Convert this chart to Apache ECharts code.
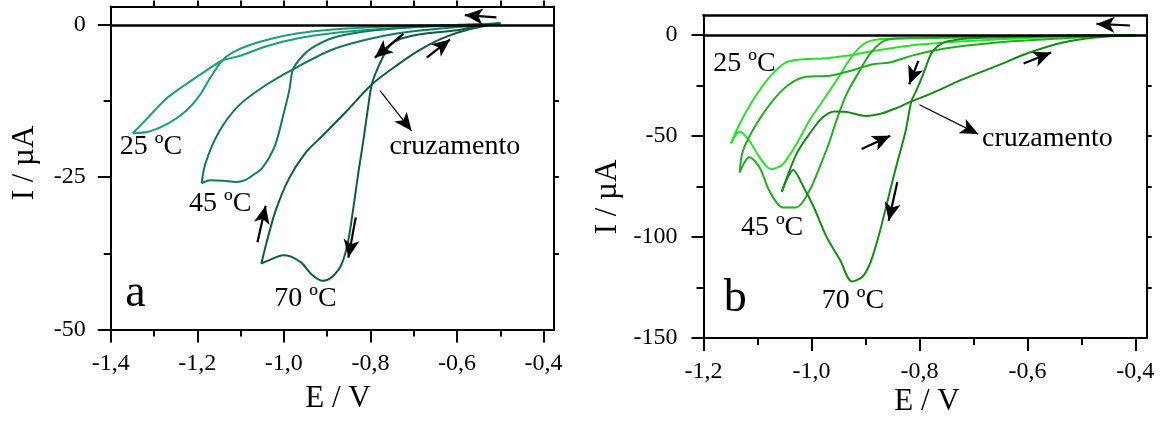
<!DOCTYPE html>
<html><head><meta charset="utf-8">
<script src="https://cdn.jsdelivr.net/npm/echarts@6/dist/echarts.min.js"></script>
<style>html,body{margin:0;padding:0;background:#fff}#c{width:1160px;height:423px}</style>
</head><body><div id="c"></div>
<script>
// ---------- Panel a (E / V, I / uA) ----------
const a25Fwd = [[-0.50,0.2],[-0.60,0.0],[-0.70,-0.15],[-0.80,-0.4],[-0.90,-0.85],[-0.967,-1.4],[-1.029,-2.3],[-1.082,-3.4],[-1.12,-4.6],[-1.143,-5.9],[-1.170,-8.7],[-1.196,-11.7],[-1.227,-14.2],[-1.265,-16.1],[-1.311,-17.5],[-1.349,-17.8]];
const a25Rev = [[-1.349,-17.8],[-1.311,-15.0],[-1.273,-12.2],[-1.227,-9.8],[-1.181,-7.6],[-1.143,-5.9],[-1.097,-5.0],[-1.044,-3.6],[-0.967,-2.2],[-0.88,-1.3],[-0.80,-0.8],[-0.70,-0.4],[-0.60,-0.1],[-0.50,0.2]];
const a45Fwd = [[-0.50,0.2],[-0.60,-0.1],[-0.70,-0.35],[-0.813,-1.1],[-0.889,-2.2],[-0.935,-3.8],[-0.958,-5.2],[-0.979,-7.3],[-0.987,-10.6],[-1.002,-15.0],[-1.021,-19.9],[-1.05,-23.5],[-1.07,-24.6],[-1.09,-25.5],[-1.11,-25.8],[-1.14,-25.6],[-1.17,-25.5],[-1.19,-26.0]];
const a45Rev = [[-1.19,-26.0],[-1.181,-22.7],[-1.151,-17.7],[-1.105,-13.3],[-1.044,-10.0],[-0.979,-7.3],[-0.889,-4.1],[-0.813,-2.5],[-0.736,-1.4],[-0.65,-0.7],[-0.57,-0.2],[-0.50,0.2]];
const a70Fwd = [[-0.50,0.2],[-0.55,-0.2],[-0.60,-0.9],[-0.68,-1.5],[-0.73,-2.3],[-0.755,-3.4],[-0.772,-5.4],[-0.786,-7.6],[-0.797,-9.8],[-0.805,-13.3],[-0.816,-18.8],[-0.828,-24.3],[-0.839,-29.8],[-0.851,-35.3],[-0.866,-39.2],[-0.889,-41.4],[-0.910,-42.0],[-0.935,-41.0],[-0.96,-39.0],[-0.985,-38.0],[-1.002,-37.8],[-1.03,-38.5],[-1.052,-39.2]];
const a70Rev = [[-1.052,-39.2],[-1.041,-36],[-1.019,-30.5],[-0.988,-25.2],[-0.950,-21.0],[-0.912,-18.3],[-0.858,-14.4],[-0.797,-9.8],[-0.736,-6.5],[-0.683,-4.0],[-0.630,-2.1],[-0.569,-0.7],[-0.50,0.2]];

// ---------- Panel b ----------
const b25Fwd = [[-0.40,0],[-0.50,-0.2],[-0.60,-0.4],[-0.70,-0.8],[-0.80,-1.3],[-0.874,-2.0],[-0.898,-3.6],[-0.917,-7.8],[-0.935,-14.4],[-0.954,-22.6],[-0.979,-32.5],[-1.004,-42.4],[-1.028,-54],[-1.053,-63.9],[-1.075,-66.3],[-1.096,-60.5],[-1.115,-52.3],[-1.133,-47.7],[-1.149,-53.6]];
const b25Rev = [[-1.149,-53.6],[-1.133,-44],[-1.109,-32.5],[-1.078,-20.9],[-1.047,-13.5],[-1.016,-11.9],[-0.979,-11.5],[-0.935,-10.2],[-0.886,-7.8],[-0.82,-5.2],[-0.74,-3.4],[-0.65,-2.0],[-0.55,-0.9],[-0.45,-0.2],[-0.40,0]];
const b45Fwd = [[-0.40,0],[-0.50,-0.3],[-0.60,-0.6],[-0.70,-1.0],[-0.80,-1.5],[-0.855,-2.0],[-0.871,-3.6],[-0.892,-9.4],[-0.911,-17.7],[-0.935,-29.2],[-0.954,-42.4],[-0.966,-52.3],[-0.985,-65.5],[-1.004,-77.1],[-1.028,-85.3],[-1.053,-85.3],[-1.078,-77.1],[-1.096,-65.5],[-1.115,-60.5],[-1.133,-68]];
const b45Rev = [[-1.133,-68],[-1.127,-57.3],[-1.102,-44],[-1.072,-32.5],[-1.041,-24.3],[-1.010,-20.6],[-0.966,-20.1],[-0.929,-17.7],[-0.886,-14.4],[-0.855,-13.5],[-0.812,-10.0],[-0.75,-6.5],[-0.657,-3.6],[-0.565,-2.0],[-0.475,-0.6],[-0.40,0]];
const b70Fwd = [[-0.40,0],[-0.50,-0.2],[-0.60,-0.6],[-0.68,-1.3],[-0.73,-2.2],[-0.757,-3.8],[-0.775,-7.8],[-0.784,-12.7],[-0.793,-19.3],[-0.806,-27.6],[-0.815,-32.8],[-0.826,-48],[-0.843,-65],[-0.859,-82],[-0.874,-98],[-0.890,-112],[-0.905,-119.5],[-0.925,-122],[-0.947,-111.4],[-0.972,-99.9],[-0.996,-85],[-1.015,-75.1],[-1.034,-66.8],[-1.045,-71],[-1.055,-77.6]];
const b70Rev = [[-1.055,-77.6],[-1.028,-58.9],[-1.004,-49],[-0.979,-40.7],[-0.957,-37.8],[-0.935,-38],[-0.90,-40],[-0.870,-38.8],[-0.843,-36.1],[-0.815,-32.8],[-0.781,-29.2],[-0.719,-21.8],[-0.657,-15.2],[-0.596,-8.6],[-0.534,-3.6],[-0.475,-1.1],[-0.40,0]];

// ---------- Tick values ----------
const aXMajor = [-1.4,-1.2,-1.0,-0.8,-0.6,-0.4];
const aXMinor = [-1.3,-1.1,-0.9,-0.7,-0.5];
const aXTop = [-1.3,-1.2,-1.1,-1.0,-0.9,-0.8,-0.7,-0.6,-0.5,-0.4];
const aYMajor = [-50,-25,0];
const aYMinor = [-37.5,-12.5];
const aYRight = [-37.5,-25,-12.5];
const bXMajor = [-1.2,-1.0,-0.8,-0.6,-0.4];
const bXMinor = [-1.1,-0.9,-0.7,-0.5];
const bYMajor = [-150,-100,-50,0];
const bYMinor = [-125,-75,-25];
const bYRight = [-125,-100,-75,-50,-25];

// ---------- Annotations ----------
const aLabels = [['25 ºC',-1.307,-20.0],['45 ºC',-1.147,-29.3],['70 ºC',-0.950,-44.9],['cruzamento',-0.605,-20.0]];
const bLabels = [['25 ºC',-1.124,-14.2],['45 ºC',-1.073,-95.2],['70 ºC',-0.923,-131.5],['cruzamento',-0.563,-51.4]];
const aPanel = ['a',-1.343,-44.1];
const bPanel = ['b',-1.141,-130.4];
// arrows: [tailE, tailI, headE, headI, thin?]
const aArrows = [[-0.509,1.2,-0.582,1.6,0],[-0.724,-1.5,-0.790,-5.4,0],[-0.670,-5.4,-0.616,-2.4,0],[-0.778,-10.8,-0.705,-17.4,1],[-1.061,-35.7,-1.042,-29.7,0],[-0.834,-31.6,-0.851,-38.2,0]];
const bArrows = [[-0.410,4.8,-0.472,5.6,0],[-0.802,-12.7,-0.819,-24.3,0],[-0.607,-14.0,-0.556,-8.6,0],[-0.800,-34.5,-0.691,-49.0,1],[-0.907,-56.4,-0.854,-49.8,0],[-0.841,-72.9,-0.857,-91.9,0]];

const colA = ['#17a07c','#0f7a5c','#0b5c45'];
const colB = ['#22e622','#1cb01c','#128c12'];
const FF = '"Liberation Serif","Times New Roman",serif';

const fmtX = v => v.toFixed(1).replace('.', ',');
const fmtY = v => String(Math.round(v));

function xAx(grid, min, max, pos, major, len, labels, line, lw){
  return {type:'value', gridIndex:grid, position:pos, min, max,
    axisLine:{show:line, onZero:false, lineStyle:{color:'#000', width:lw||2}},
    axisTick:{show:major.length>0, customValues:major, length:len, inside:false, lineStyle:{color:'#000', width:2}},
    axisLabel:{show:labels, customValues:major, formatter:fmtX, color:'#000', fontFamily:FF, fontSize:24, margin:22},
    splitLine:{show:false}};
}
function yAx(grid, min, max, pos, major, len, labels, line, lw, margin){
  return {type:'value', gridIndex:grid, position:pos, min, max,
    axisLine:{show:line, onZero:false, lineStyle:{color:'#000', width:lw||2}},
    axisTick:{show:major.length>0, customValues:major, length:len, inside:false, lineStyle:{color:'#000', width:2}},
    axisLabel:{show:labels, customValues:major, formatter:fmtY, color:'#000', fontFamily:FF, fontSize:24, margin:margin||25},
    splitLine:{show:false}};
}

const AXMIN=-1.4, AXMAX=-0.376, AYMIN=-50, AYMAX=3;
const BXMIN=-1.2, BXMAX=-0.379, BYMIN=-150, BYMAX=10;

const xAxis = [
  xAx(0,AXMIN,AXMAX,'bottom',aXMajor,13,true,true),
  xAx(1,BXMIN,BXMAX,'bottom',bXMajor,13,true,true),
  xAx(0,AXMIN,AXMAX,'bottom',aXMinor,7,false,false),
  xAx(1,BXMIN,BXMAX,'bottom',bXMinor,7,false,false),
  xAx(0,AXMIN,AXMAX,'top',aXTop,6,false,true),
  xAx(1,BXMIN,BXMAX,'top',[],0,false,true,2.5)
];
const yAxis = [
  yAx(0,AYMIN,AYMAX,'left',aYMajor,13,true,true,2,25),
  yAx(1,BYMIN,BYMAX,'left',bYMajor,12,true,true,2,26),
  yAx(0,AYMIN,AYMAX,'left',aYMinor,7,false,false),
  yAx(1,BYMIN,BYMAX,'left',bYMinor,7,false,false),
  yAx(0,AYMIN,AYMAX,'right',aYRight,5,false,true),
  yAx(1,BYMIN,BYMAX,'right',bYRight,5,false,true)
];

const series = [];
function addCurve(fwd, rev, color, g){
  [fwd, rev].forEach(d => series.push({type:'line', xAxisIndex:g, yAxisIndex:g, data:d,
    showSymbol:false, symbol:'none', smooth:0.3, silent:true, z:3,
    lineStyle:{color, width:2}, emphasis:{disabled:true}}));
}
addCurve(a25Fwd,a25Rev,colA[0],0);
addCurve(a45Fwd,a45Rev,colA[1],0);
addCurve(a70Fwd,a70Rev,colA[2],0);
addCurve(b25Fwd,b25Rev,colB[0],1);
addCurve(b45Fwd,b45Rev,colB[1],1);
addCurve(b70Fwd,b70Rev,colB[2],1);

function annot(g, labels, panel, arrows){
  const data = labels.map(l => ({name:l[0], value:[l[1],l[2]], label:{fontSize:28}}));
  data.push({name:panel[0], value:[panel[1],panel[2]], label:{fontSize:46}});
  series.push({type:'scatter', xAxisIndex:g, yAxisIndex:g, symbolSize:0, silent:true, z:5,
    data, itemStyle:{color:'#000', opacity:1},
    label:{show:true, position:'inside', formatter:p=>p.name, color:'#000', opacity:1,
      textBorderWidth:0, textShadowBlur:0, fontFamily:FF},
    emphasis:{disabled:true},
    markLine:{silent:true, symbol:['none','arrow'], symbolSize:[12,18], animation:false,
      label:{show:false}, emphasis:{disabled:true},
      lineStyle:{color:'#000', width:2.2, type:'solid', opacity:1},
      data: arrows.map(a => [{coord:[a[0],a[1]], lineStyle:{width:a[4]?1.2:2.2}, symbolSize:a[4]?[10,17]:[12,18]},{coord:[a[2],a[3]]}])
    }});
  series.push({type:'line', xAxisIndex:g, yAxisIndex:g, data:[], silent:true,
    markLine:{silent:true, symbol:['none','none'], animation:false, label:{show:false},
      lineStyle:{color:'#000', width:2.5, type:'solid', opacity:1}, data:[{yAxis:0}]}});
}
annot(0, aLabels, aPanel, aArrows);
annot(1, bLabels, bPanel, bArrows);

const titleFont = '31px "Liberation Serif"';
const option = {
  animation:false,
  backgroundColor:'#fff',
  grid:[
    {left:110.7, right:606, top:6.5, bottom:93.5},
    {left:703.5, right:13.3, top:15, bottom:85}
  ],
  xAxis, yAxis, series,
  graphic:[
    {type:'text', x:338, y:399, style:{text:'E / V', font:titleFont, fill:'#000', align:'center', verticalAlign:'middle'}},
    {type:'text', x:927, y:402, style:{text:'E / V', font:titleFont, fill:'#000', align:'center', verticalAlign:'middle'}},
    {type:'text', x:25, y:163, rotation:Math.PI/2, style:{text:'I / µA', font:titleFont, fill:'#000', align:'center', verticalAlign:'middle'}},
    {type:'text', x:608, y:197, rotation:Math.PI/2, style:{text:'I / µA', font:titleFont, fill:'#000', align:'center', verticalAlign:'middle'}}
  ]
};
const chart = echarts.init(document.getElementById('c'), null, {renderer:'canvas'});
chart.setOption(option);
</script></body></html>
